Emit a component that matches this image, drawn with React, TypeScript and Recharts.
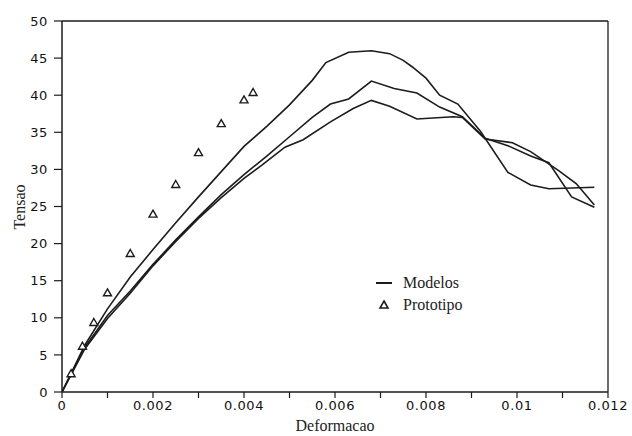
import React from 'react';
import { ComposedChart, Line, Scatter, XAxis, YAxis, ReferenceLine, Label } from 'recharts';

// eixos
const xTicks = [0, 0.001, 0.002, 0.003, 0.004, 0.005, 0.006, 0.007, 0.008, 0.009, 0.01, 0.011, 0.012];
const xTickLabels = ['0', '', '0.002', '', '0.004', '', '0.006', '', '0.008', '', '0.01', '', '0.012'];
const yTicks = [0, 5, 10, 15, 20, 25, 30, 35, 40, 45, 50];

// modelo 1 (pico ~46)
const modelo1Deformacao = [0, 0.0005, 0.001, 0.0015, 0.002, 0.0025, 0.003, 0.0035, 0.004, 0.0045, 0.005, 0.0055, 0.0058, 0.0063, 0.0068, 0.0072, 0.0075, 0.0077, 0.008, 0.0083, 0.0087, 0.0092, 0.0098, 0.0103, 0.0107, 0.0117];
const modelo1Tensao = [0, 6.3, 11.2, 15.5, 19.2, 22.8, 26.3, 29.7, 33.1, 35.8, 38.7, 42.0, 44.4, 45.8, 46.0, 45.6, 44.7, 43.8, 42.3, 40.0, 38.8, 35.1, 29.6, 27.9, 27.4, 27.6];

// modelo 2 (pico ~42)
const modelo2Deformacao = [0, 0.0005, 0.001, 0.0015, 0.002, 0.0025, 0.003, 0.0035, 0.004, 0.0045, 0.005, 0.0055, 0.0059, 0.0063, 0.0068, 0.0073, 0.0078, 0.0083, 0.0088, 0.0093, 0.0098, 0.0103, 0.0107, 0.0112, 0.0117];
const modelo2Tensao = [0, 6.0, 10.3, 13.6, 17.2, 20.5, 23.6, 26.6, 29.3, 31.8, 34.4, 37.0, 38.8, 39.5, 41.9, 40.9, 40.3, 38.4, 37.1, 34.2, 33.2, 31.8, 30.9, 26.3, 24.9];

// modelo 3 (pico ~39.5)
const modelo3Deformacao = [0, 0.0005, 0.001, 0.0015, 0.002, 0.0025, 0.003, 0.0035, 0.004, 0.0044, 0.0049, 0.0053, 0.0059, 0.0064, 0.0068, 0.0072, 0.0078, 0.0086, 0.0088, 0.0093, 0.0099, 0.0103, 0.0109, 0.0113, 0.0117];
const modelo3Tensao = [0, 5.8, 9.9, 13.3, 17.0, 20.3, 23.4, 26.2, 28.8, 30.6, 33.0, 34.0, 36.4, 38.2, 39.3, 38.5, 36.8, 37.1, 37.0, 34.1, 33.6, 32.4, 29.9, 28.1, 25.2];

// prototipo (ensaio)
const prototipoDeformacao = [0.0002, 0.00045, 0.0007, 0.001, 0.0015, 0.002, 0.0025, 0.003, 0.0035, 0.004, 0.0042];
const prototipoTensao = [2.4, 6.1, 9.3, 13.3, 18.6, 23.9, 27.9, 32.2, 36.1, 39.3, 40.3];

const pares = (xs: number[], ys: number[]) => xs.map((x, i) => ({ x, y: ys[i] }));

const modelos = [
  pares(modelo1Deformacao, modelo1Tensao),
  pares(modelo2Deformacao, modelo2Tensao),
  pares(modelo3Deformacao, modelo3Tensao),
];
const prototipo = pares(prototipoDeformacao, prototipoTensao);

const INK = '#1c1c1c';
const tickFont = { fontFamily: 'DejaVu Sans', fontSize: 13, fill: '#111', letterSpacing: 0.6 };
const serif = 'Liberation Serif, Times New Roman, serif';

const Triangulo = (props: any) => {
  const { cx, cy } = props;
  return (
    <path
      d={`M${cx},${cy - 4.5} L${cx + 4},${cy + 2.5} L${cx - 4},${cy + 2.5} Z`}
      fill="#fff"
      stroke={INK}
      strokeWidth={1.4}
    />
  );
};

const App = () => {
  return (
    <div style={{ position: 'absolute', left: 0, top: 0, width: 632, height: 436, background: '#fff' }}>
      <ComposedChart width={632} height={436} margin={{ top: 21, right: 24, left: 0, bottom: 0 }}>
        <XAxis
          type="number"
          dataKey="x"
          domain={[0, 0.012]}
          ticks={xTicks}
          interval={0}
          allowDataOverflow
          tickFormatter={(v: number) => xTickLabels[xTicks.indexOf(v)] ?? ''}
          tick={tickFont}
          tickSize={6}
          tickMargin={3}
          height={44}
          axisLine={{ stroke: INK, strokeWidth: 1.5 }}
          tickLine={{ stroke: INK, strokeWidth: 1.2 }}
        >
          <Label
            value="Deformacao"
            position="insideBottom"
            offset={5}
            style={{ fontFamily: serif, fontSize: 16, fill: '#222' }}
          />
        </XAxis>
        <YAxis
          type="number"
          dataKey="y"
          domain={[0, 50]}
          ticks={yTicks}
          interval={0}
          allowDataOverflow
          tick={tickFont}
          tickSize={8}
          tickMargin={6}
          width={62}
          axisLine={{ stroke: INK, strokeWidth: 1.5 }}
          tickLine={{ stroke: INK, strokeWidth: 1.2 }}
        >
          <Label
            content={() => (
              <text
                x={19}
                y={207}
                transform="rotate(-90 19 207)"
                textAnchor="middle"
                dominantBaseline="central"
                style={{ fontFamily: serif, fontSize: 16, fill: '#222' }}
              >
                Tensao
              </text>
            )}
          />
        </YAxis>
        <ReferenceLine y={50} stroke={INK} strokeWidth={1.5} />
        <ReferenceLine x={0.012} stroke={INK} strokeWidth={1.3} />
        {modelos.map((d, i) => (
          <Line
            key={i}
            data={d}
            dataKey="y"
            type="linear"
            stroke={INK}
            strokeWidth={1.6}
            dot={false}
            activeDot={false}
            isAnimationActive={false}
          />
        ))}
        <Scatter data={prototipo} dataKey="y" shape={<Triangulo />} isAnimationActive={false} />
      </ComposedChart>
      <div style={{ position: 'absolute', left: 374, top: 272, fontFamily: serif, fontSize: 16, color: '#222', lineHeight: '22px' }}>
        <div style={{ display: 'flex', alignItems: 'center' }}>
          <span style={{ display: 'inline-block', width: 16, height: 2, background: INK, marginLeft: 2, marginRight: 11 }} />
          <span>Modelos</span>
        </div>
        <div style={{ display: 'flex', alignItems: 'center' }}>
          <svg width={29} height={14} style={{ marginRight: 0 }}>
            <path d="M10,3 L14,10 L6,10 Z" fill="#fff" stroke={INK} strokeWidth={1.6} />
          </svg>
          <span>Prototipo</span>
        </div>
      </div>
    </div>
  );
};

export default App;
